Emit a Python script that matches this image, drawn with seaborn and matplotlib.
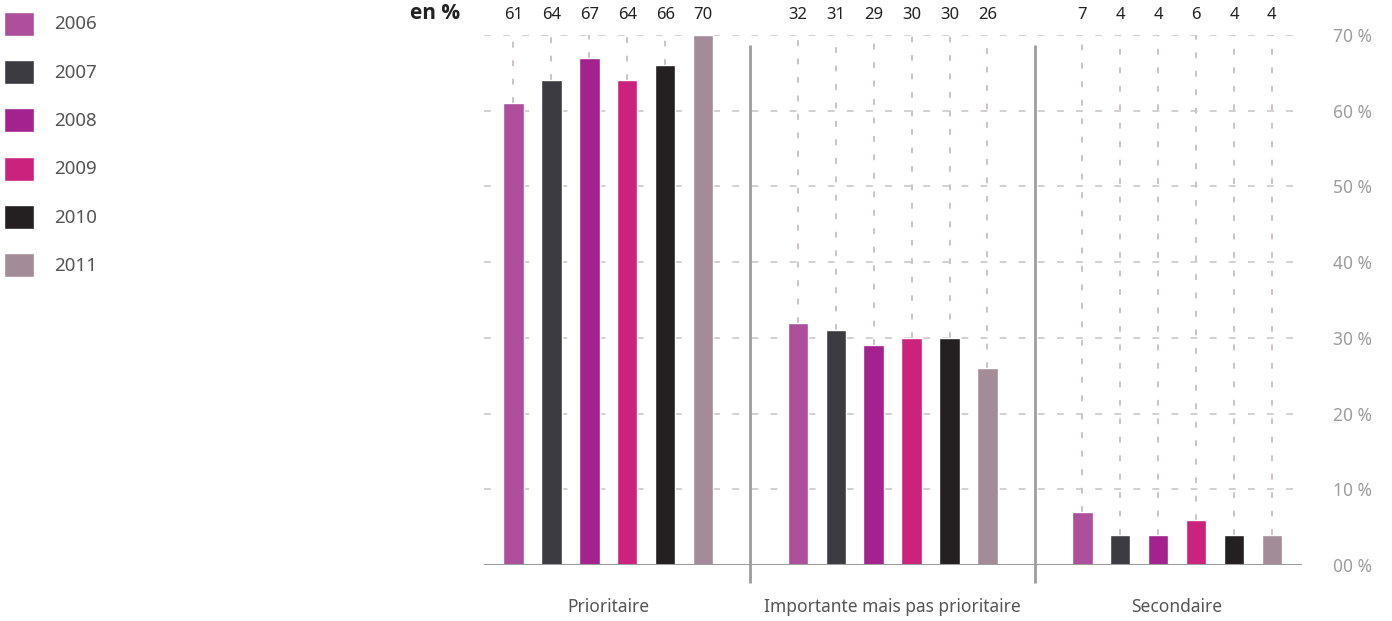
import matplotlib
matplotlib.use("Agg")
import matplotlib.pyplot as plt
import matplotlib.transforms as mtransforms
import seaborn as sns
import pandas as pd

categories = ["Prioritaire", "Importante mais pas prioritaire", "Secondaire"]
years = ["2006", "2007", "2008", "2009", "2010", "2011"]
values = {
    "2006": [61, 32, 7],
    "2007": [64, 31, 4],
    "2008": [67, 29, 4],
    "2009": [64, 30, 6],
    "2010": [66, 30, 4],
    "2011": [70, 26, 4],
}
colors = ["#ad4f9b", "#3c3b41", "#a3228e", "#cb227e", "#242022", "#a38c97"]
y_ticks = [0, 10, 20, 30, 40, 50, 60, 70]
y_tick_labels = ["00 %", "10 %", "20 %", "30 %", "40 %", "50 %", "60 %", "70 %"]

rows = []
for y in years:
    for c, v in zip(categories, values[y]):
        rows.append({"cat": c, "year": y, "val": v})
df = pd.DataFrame(rows)

sns.set_style("white")
plt.rcParams["font.family"] = ["Noto Sans", "DejaVu Sans"]

fig = plt.figure(figsize=(13.92, 6.21), dpi=100)
ax = fig.add_axes([0.3477, 0.0902, 0.5876, 0.8535])

sns.barplot(data=df, x="cat", y="val", hue="year", order=categories,
            hue_order=years, palette=colors, width=0.8, gap=0.46,
            saturation=1, ax=ax, legend=True, zorder=3)

ax.set_xlim(-0.437, 2.439)
ax.set_ylim(0, 70)

for s in ax.spines.values():
    s.set_visible(False)

# horizontal dashed grid
for t in y_ticks[1:]:
    ax.axhline(t, color="#c8c4c8", lw=1.1, linestyle=(0, (4.5, 8)), zorder=1)
ax.axhline(0, color="#9d9d9f", lw=2.2, zorder=4)

# vertical dashed guides from bar tops, value labels
trans = mtransforms.blended_transform_factory(ax.transData, ax.transAxes)
for bars, y in zip(ax.containers, years):
    for rect, v in zip(bars, values[y]):
        xc = rect.get_x() + rect.get_width() / 2
        if v < 70:
            ax.vlines(xc, v, 70, color="#ccc3ca", lw=1.4,
                      linestyle=(0, (3, 6.5)), zorder=2)
        ax.text(xc, 1.038, f"{v}", transform=trans, ha="center", va="center",
                fontsize=12, color="#222222", clip_on=False)

# group separators
for xs in [0.5, 1.5]:
    ax.vlines(xs, -2.4, 68.7, color="#9d9d9f", lw=2, clip_on=False, zorder=4)

ax.set_yticks(y_ticks)
ax.set_yticklabels(y_tick_labels, fontsize=12.5, color="#9d9d9f")
ax.tick_params(axis="y", which="both", length=0, pad=22.5, left=False, right=False,
               labelleft=False, labelright=True)
ax.tick_params(axis="x", length=0, pad=24, labelsize=12.5, labelcolor="#555555")
ax.set_xlabel("")
ax.set_ylabel("")

fig.text(0.2945, 0.979, "en %", fontsize=15, fontweight="bold", color="#222222",
         ha="left", va="center", family=["Open Sans", "DejaVu Sans"])

leg = ax.get_legend()
handles = leg.legend_handles
labels = [t.get_text() for t in leg.get_texts()]
leg.remove()
flegend = fig.legend(handles, labels, loc="upper left",
                     bbox_to_anchor=(0.0029, 0.981),
                     frameon=False, fontsize=12.5, handlelength=1.75,
                     handleheight=1.75, labelspacing=1.40, handletextpad=1.15,
                     borderpad=0, borderaxespad=0, labelcolor="#555555")
for t in flegend.get_texts():
    t.set_fontsize(13.5)

fig.savefig("out.png", dpi=100)
